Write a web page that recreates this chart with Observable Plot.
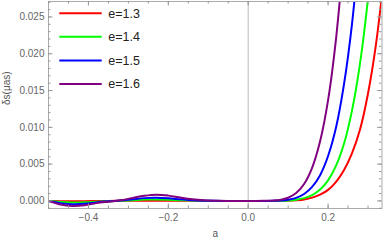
<!DOCTYPE html>
<html><head><meta charset="utf-8">
<script src="https://cdn.jsdelivr.net/npm/d3@7"></script>
<script src="https://cdn.jsdelivr.net/npm/@observablehq/plot@0.6"></script>
<style>
body{margin:0;background:#fff;}
#wrap{position:relative;width:385px;height:242px;font-family:"Liberation Sans",Arial,sans-serif;}
#wrap svg.legend{position:absolute;left:0;top:0;}
</style></head><body><div id="wrap"></div>
<script>
const aValues = [-0.5, -0.47, -0.44, -0.41, -0.38, -0.35, -0.32, -0.29, -0.26, -0.23, -0.2, -0.17, -0.14, -0.11, -0.08, -0.05, -0.02, 0, 0.02, 0.04, 0.06, 0.08, 0.1, 0.12, 0.14, 0.16, 0.18, 0.2, 0.22, 0.24, 0.26, 0.28, 0.3, 0.32, 0.34];
const seriesNames = ["e=1.3", "e=1.4", "e=1.5", "e=1.6"];
const seriesColors = ["#ff0000", "#00ff00", "#0000ff", "#800080"];
const e13 = [0, -0.00003, -0.00004, -0.00004, -0.00002, 0, 0.00001, 0.00002, 0.00003, 0.00003, 0.00003, 0.00002, 0.00001, 0, 0, 0, 0, 0, 0, 0, 0, 0.00001, 0.00003, 0.00009, 0.0002, 0.00045, 0.00085, 0.0015, 0.0026, 0.0042, 0.0065, 0.0097, 0.0146, 0.0213, 0.0305];
const e14 = [0, -0.00013, -0.0002, -0.00018, -0.0001, -0.00003, 0.00002, 0.0001, 0.00018, 0.0002, 0.00017, 0.0001, 0.00005, 0.00002, 0, 0, 0, 0, 0, 0, 0.000005, 0.00002, 0.000056, 0.000157, 0.000375, 0.00079, 0.00155, 0.0028, 0.0048, 0.0078, 0.0123, 0.0187, 0.0275, 0.039, null];
const e15 = [0, -0.0003, -0.00045, -0.0004, -0.0002, -0.00006, 0.00005, 0.00022, 0.00038, 0.00042, 0.00035, 0.00022, 0.0001, 0.00004, 0.00001, 0, 0, 0, 0, 0.000003, 0.00001, 0.00005, 0.00016, 0.00042, 0.00094, 0.0019, 0.0035, 0.0061, 0.01, 0.0159, 0.0241, 0.0356, null, null, null];
const e16 = [0, -0.0005, -0.0007, -0.0006, -0.0003, -0.0001, 0.00008, 0.0004, 0.0007, 0.00085, 0.00072, 0.00045, 0.00022, 0.00008, 0.00002, 0, 0, 0, 0, 0.00001, 0.00004, 0.00014, 0.00043, 0.00107, 0.0023, 0.0045, 0.0081, 0.0137, 0.0221, 0.034, null, null, null, null, null];
const xTickLabels = [-0.4, -0.2, 0, 0.2];
const yTickLabels = [0, 0.005, 0.01, 0.015, 0.02, 0.025];
const xLabel = "a";
const yLabel = "δs(μas)";

const seriesValues = [e13, e14, e15, e16];
const rows = [];
seriesNames.forEach((name, i) => aValues.forEach((a, j) => rows.push({a, v: seriesValues[i][j], series: name})));

const W = 385, H = 242, mL = 48, mR = 3.5, mT = 1, mB = 34;
const fw = W - mL - mR, fh = H - mT - mB;
const xMinor = d3.range(-0.5, 0.34, 0.05).map(d => +d.toFixed(3));
const yMinor = d3.range(-0.001, 0.0275, 0.001).map(d => +d.toFixed(4));
const tickColor = "#999";
const majorLen = 4.5, minorLen = 2.5;

const chart = Plot.plot({
  width: W, height: H, marginLeft: mL, marginRight: mR, marginTop: mT, marginBottom: mB,
  style: {fontFamily: '"Liberation Sans", Arial, sans-serif', fontSize: "10px", color: "#666", background: "white"},
  x: {domain: [-0.5, 0.335], axis: null},
  y: {domain: [-0.00103, 0.0271], axis: null},
  color: {domain: seriesNames, range: seriesColors},
  marks: [
    Plot.ruleX([0], {stroke: "#bbb", strokeWidth: 1}),
    Plot.line(rows, {x: "a", y: "v", stroke: "series", z: "series", strokeWidth: 2, curve: "catmull-rom", clip: true}),
    Plot.frame({stroke: "#aaa"}),
    Plot.tickY(yMinor, {y: d => d, stroke: tickColor, insetRight: fw - minorLen}),
    Plot.tickY(yMinor, {y: d => d, stroke: tickColor, insetLeft: fw - minorLen}),
    Plot.tickY(yTickLabels, {y: d => d, stroke: tickColor, insetRight: fw - majorLen}),
    Plot.tickY(yTickLabels, {y: d => d, stroke: tickColor, insetLeft: fw - majorLen}),
    Plot.tickX(xMinor, {x: d => d, stroke: tickColor, insetTop: fh - minorLen}),
    Plot.tickX(xMinor, {x: d => d, stroke: tickColor, insetBottom: fh - minorLen}),
    Plot.tickX(xTickLabels, {x: d => d, stroke: tickColor, insetTop: fh - majorLen}),
    Plot.tickX(xTickLabels, {x: d => d, stroke: tickColor, insetBottom: fh - majorLen}),
    Plot.axisX(xTickLabels, {tickSize: 0, tickPadding: 5, tickFormat: d3.format(".1f"), label: null, fill: "#666"}),
    Plot.axisY(yTickLabels, {tickSize: 0, tickPadding: 4, tickFormat: d3.format(".3f"), label: null, fill: "#666"}),
    Plot.text([yLabel], {frameAnchor: "left", dx: -42, rotate: -90, fill: "#555", fontSize: 10}),
    Plot.text([xLabel], {frameAnchor: "bottom", dy: 28, fill: "#555", fontSize: 10})
  ]
});
const wrap = document.getElementById("wrap");
wrap.appendChild(chart);

// legend inside the frame
const leg = d3.select(wrap).append("svg").attr("class", "legend").attr("width", W).attr("height", H);
seriesNames.forEach((name, i) => {
  const y = 13.3 + i * 23.55;
  leg.append("line").attr("x1", 59.3).attr("x2", 101.7).attr("y1", y).attr("y2", y)
    .attr("stroke", seriesColors[i]).attr("stroke-width", 2);
  leg.append("text").attr("x", 108.3).attr("y", y).attr("dy", "0.36em")
    .attr("font-size", 12.5).attr("fill", "#222")
    .attr("font-family", '"Liberation Sans", Arial, sans-serif').text(name);
});
</script></body></html>
